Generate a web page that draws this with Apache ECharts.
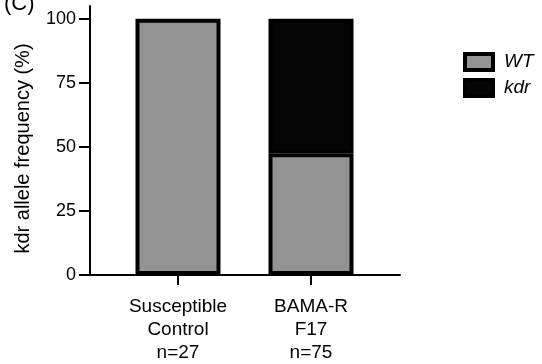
<!DOCTYPE html>
<html>
<head>
<meta charset="utf-8">
<script src="https://cdn.jsdelivr.net/npm/echarts@6/dist/echarts.min.js"></script>
<style>
  html, body { margin: 0; padding: 0; background: #fff; }
  #chart { width: 542px; height: 364px; }
</style>
</head>
<body>
<div id="chart"></div>
<script>
// data
var categories = ['Susceptible\nControl\nn=27', 'BAMA-R\nF17\nn=75'];
var wtValues = [100, 47.5];
var kdrValues = [0, 52.5];
var yTicks = [0, 25, 50, 75, 100];

var font = 'Liberation Sans, Arial, sans-serif';

var chart = echarts.init(document.getElementById('chart'));
chart.setOption({
  animation: false,
  textStyle: { fontFamily: font, color: '#000' },
  title: {
    text: '(C)',
    left: -1,
    top: -12,
    textStyle: { fontFamily: font, fontSize: 22, fontWeight: 'normal', color: '#000' }
  },
  legend: {
    data: ['WT', 'kdr'],
    orient: 'vertical',
    left: 458,
    top: 47,
    icon: 'rect',
    itemWidth: 28,
    itemHeight: 16,
    itemGap: 6,
    itemStyle: { borderColor: '#000', borderWidth: 4 },
    textStyle: { fontFamily: font, fontSize: 19, fontStyle: 'italic', color: '#000', padding: [0, 0, 0, 6] }
  },
  // grid 0 carries the long axis frame, grid 1 the bars
  grid: [
    { left: 90, right: 142, top: 6, bottom: 89 },
    { left: 111.5, right: 164.5, top: 6, bottom: 89 }
  ],
  xAxis: [
    {
      gridIndex: 0,
      type: 'value',
      min: 0,
      max: 1,
      splitLine: { show: false },
      axisLine: { show: true, onZero: false, lineStyle: { color: '#000', width: 2 } },
      axisTick: { show: false },
      axisLabel: { show: false }
    },
    {
      gridIndex: 1,
      type: 'category',
      data: categories,
      axisLine: { show: false },
      axisTick: { show: true, alignWithLabel: true, length: 10, lineStyle: { color: '#000', width: 2 } },
      axisLabel: { fontSize: 19, lineHeight: 23, margin: 20, color: '#000', fontFamily: font }
    }
  ],
  yAxis: [
    {
      gridIndex: 0,
      type: 'value',
      min: 0,
      max: 105,
      name: 'kdr allele frequency (%)',
      nameLocation: 'middle',
      nameGap: 57,
      nameTextStyle: { fontSize: 20, color: '#000', fontFamily: font, padding: [0, 16, 0, 0] },
      splitLine: { show: false },
      axisLine: { show: true, onZero: false, lineStyle: { color: '#000', width: 2 } },
      axisTick: { show: true, length: 11, lineStyle: { color: '#000', width: 2 }, customValues: yTicks },
      axisLabel: { customValues: yTicks, fontSize: 18, margin: 14, color: '#000', fontFamily: font }
    },
    {
      gridIndex: 1,
      type: 'value',
      min: 0,
      max: 105,
      show: false
    }
  ],
  series: [
    {
      name: 'WT',
      type: 'bar',
      xAxisIndex: 1,
      yAxisIndex: 1,
      stack: 'freq',
      barWidth: 85,
      data: wtValues,
      itemStyle: { color: '#939393', borderColor: '#000', borderWidth: 4 }
    },
    {
      name: 'kdr',
      type: 'bar',
      xAxisIndex: 1,
      yAxisIndex: 1,
      stack: 'freq',
      barWidth: 85,
      // an empty segment would leave an extra border line on top
      data: kdrValues.map(function (v) { return v === 0 ? '-' : v; }),
      itemStyle: { color: '#050505', borderColor: '#000', borderWidth: 4 }
    }
  ]
});
</script>
</body>
</html>
